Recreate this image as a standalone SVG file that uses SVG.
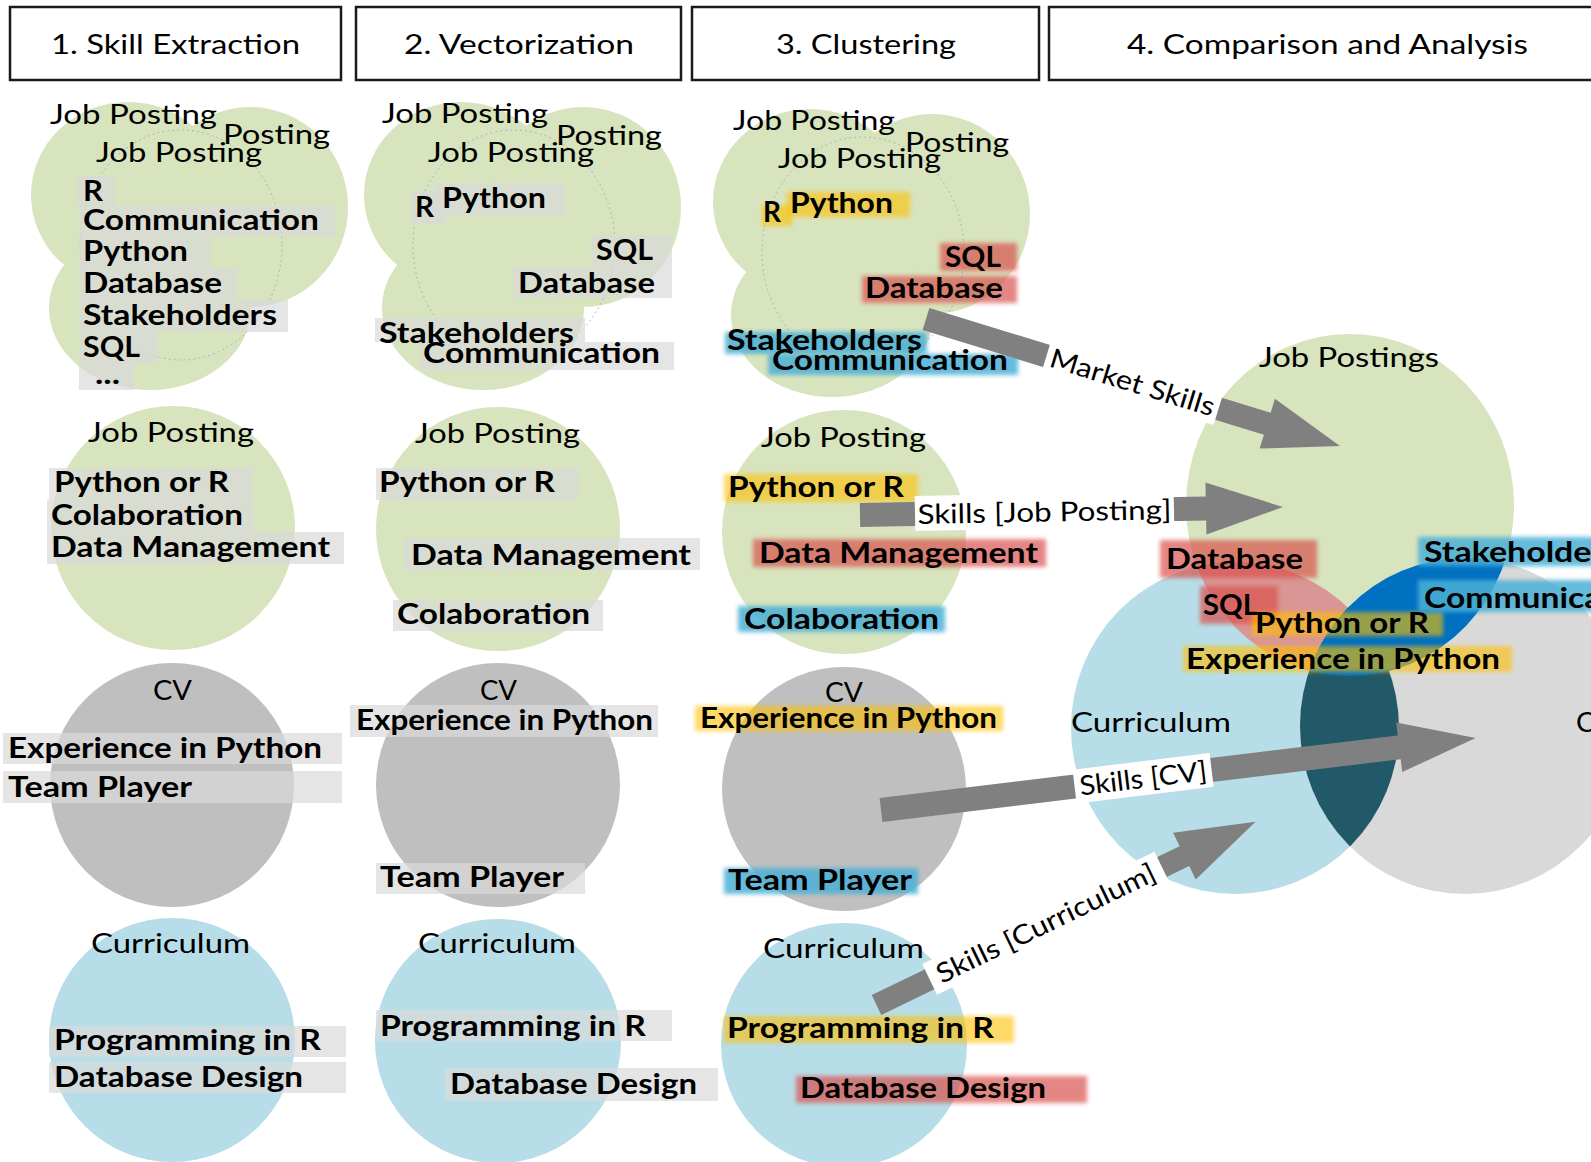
<svg xmlns="http://www.w3.org/2000/svg" width="1591" height="1162" viewBox="0 0 1591 1162">
<style>
.t{font-family:Lato,"Liberation Sans",sans-serif;font-size:27px;fill:#000}
.b{font-weight:700;font-size:28px}
.hdr{fill:#fff;stroke:#1a1a1a;stroke-width:2.5}
.jp{fill:#d7e4bd}
.cv{fill:#bfbfbf}
.cu{fill:#b7dde8}
.dot{fill:none;stroke:#a9b3c2;stroke-width:1;stroke-dasharray:2 3}
.gbox{fill:#dadada;opacity:.7}
.hy{fill:#ffc000;opacity:.6;filter:url(#soft)}
.hr{fill:#d9534f;opacity:.7;filter:url(#soft)}
.hb{fill:#4bb0d6;opacity:.85;filter:url(#soft)}
.arr{fill:#808080}
.lbl{fill:#fff}
</style>
<defs>
<filter id="soft" x="-10%" y="-40%" width="120%" height="180%"><feGaussianBlur stdDeviation="2"/></filter>
<clipPath id="clipJP"><ellipse cx="1350" cy="505" rx="164" ry="171"/></clipPath>
<clipPath id="clipCU"><ellipse cx="1235" cy="728" rx="164" ry="166"/></clipPath>
</defs>
<rect width="1591" height="1162" fill="#fff"/>

<g id="header-1"><rect class="hdr" x="10" y="7" width="331" height="73"/><text class="t" x="51" y="54" font-size="28" textLength="249" lengthAdjust="spacingAndGlyphs">1. Skill Extraction</text></g>
<g id="header-2"><rect class="hdr" x="356" y="7" width="325" height="73"/><text class="t" x="404" y="54" font-size="28" textLength="230" lengthAdjust="spacingAndGlyphs">2. Vectorization</text></g>
<g id="header-3"><rect class="hdr" x="692" y="7" width="347" height="73"/><text class="t" x="776" y="54" font-size="28" textLength="180" lengthAdjust="spacingAndGlyphs">3. Clustering</text></g>
<g id="header-4"><rect class="hdr" x="1049" y="7" width="600" height="73"/><text class="t" x="1127" y="54" font-size="28" textLength="401" lengthAdjust="spacingAndGlyphs">4. Comparison and Analysis</text></g>

<!-- Column 1 -->
<g id="c1-postings">
<ellipse class="jp" cx="128" cy="195" rx="97" ry="93"/>
<ellipse class="jp" cx="250" cy="207" rx="98" ry="100"/>
<ellipse class="jp" cx="150" cy="308" rx="101" ry="82"/>
<ellipse class="dot" cx="181" cy="245" rx="101" ry="115"/>
<text class="t" x="50" y="124" textLength="167" lengthAdjust="spacingAndGlyphs">Job Posting</text>
<text class="t" x="223" y="144" textLength="107" lengthAdjust="spacingAndGlyphs">Posting</text>
<text class="t" x="96" y="162" textLength="166" lengthAdjust="spacingAndGlyphs">Job Posting</text>
<rect class="gbox" x="78" y="176" width="37" height="30"/>
<rect class="gbox" x="79" y="206" width="256" height="31"/>
<rect class="gbox" x="79" y="237" width="131" height="31"/>
<rect class="gbox" x="79" y="268" width="158" height="32"/>
<rect class="gbox" x="79" y="300" width="209" height="32"/>
<rect class="gbox" x="79" y="332" width="79" height="31"/>
<rect class="gbox" x="79" y="363" width="55" height="27"/>
<text class="t b" x="83" y="201" textLength="20" lengthAdjust="spacingAndGlyphs">R</text>
<text class="t b" x="83" y="230" textLength="236" lengthAdjust="spacingAndGlyphs">Communication</text>
<text class="t b" x="83" y="261" textLength="105" lengthAdjust="spacingAndGlyphs">Python</text>
<text class="t b" x="83" y="293" textLength="139" lengthAdjust="spacingAndGlyphs">Database</text>
<text class="t b" x="83" y="325" textLength="194" lengthAdjust="spacingAndGlyphs">Stakeholders</text>
<text class="t b" x="83" y="357" textLength="57" lengthAdjust="spacingAndGlyphs">SQL</text>
<text class="t b" x="95" y="384" textLength="25" lengthAdjust="spacingAndGlyphs">...</text>
</g>
<g id="c1-posting">
<ellipse class="jp" cx="173" cy="528" rx="122" ry="122"/>
<text class="t" x="88" y="442" textLength="166" lengthAdjust="spacingAndGlyphs">Job Posting</text>
<rect class="gbox" x="49" y="468" width="203" height="32"/>
<rect class="gbox" x="47" y="500" width="207" height="32"/>
<rect class="gbox" x="47" y="532" width="297" height="32"/>
<text class="t b" x="54" y="492" textLength="175" lengthAdjust="spacingAndGlyphs">Python or R</text>
<text class="t b" x="51" y="525" textLength="192" lengthAdjust="spacingAndGlyphs">Colaboration</text>
<text class="t b" x="51" y="557" textLength="279" lengthAdjust="spacingAndGlyphs">Data Management</text>
</g>
<g id="c1-cv">
<ellipse class="cv" cx="172" cy="785" rx="122" ry="122"/>
<text class="t" x="153" y="700" textLength="39" lengthAdjust="spacingAndGlyphs">CV</text>
<rect class="gbox" x="3" y="733" width="339" height="31"/>
<rect class="gbox" x="3" y="771" width="339" height="32"/>
<text class="t b" x="8" y="758" textLength="314" lengthAdjust="spacingAndGlyphs">Experience in Python</text>
<text class="t b" x="8" y="797" textLength="184" lengthAdjust="spacingAndGlyphs">Team Player</text>
</g>
<g id="c1-curriculum">
<ellipse class="cu" cx="172" cy="1040" rx="123" ry="122"/>
<text class="t" x="91" y="953" textLength="159" lengthAdjust="spacingAndGlyphs">Curriculum</text>
<rect class="gbox" x="49" y="1026" width="297" height="31"/>
<rect class="gbox" x="49" y="1062" width="297" height="31"/>
<text class="t b" x="54" y="1050" textLength="267" lengthAdjust="spacingAndGlyphs">Programming in R</text>
<text class="t b" x="54" y="1087" textLength="249" lengthAdjust="spacingAndGlyphs">Database Design</text>
</g>

<!-- Column 2 -->
<g id="c2-postings">
<ellipse class="jp" cx="461" cy="195" rx="97" ry="93"/>
<ellipse class="jp" cx="583" cy="207" rx="98" ry="100"/>
<ellipse class="jp" cx="483" cy="308" rx="101" ry="82"/>
<ellipse class="dot" cx="514" cy="245" rx="101" ry="115"/>
<text class="t" x="382" y="123" textLength="166" lengthAdjust="spacingAndGlyphs">Job Posting</text>
<text class="t" x="556" y="145" textLength="106" lengthAdjust="spacingAndGlyphs">Posting</text>
<text class="t" x="428" y="162" textLength="166" lengthAdjust="spacingAndGlyphs">Job Posting</text>
<rect class="gbox" x="411" y="191" width="35" height="33"/>
<rect class="gbox" x="435" y="183" width="130" height="32"/>
<rect class="gbox" x="591" y="235" width="81" height="32"/>
<rect class="gbox" x="513" y="267" width="159" height="31"/>
<rect class="gbox" x="375" y="318" width="210" height="24"/>
<rect class="gbox" x="420" y="342" width="254" height="28"/>
<text class="t b" x="415" y="217" textLength="19" lengthAdjust="spacingAndGlyphs">R</text>
<text class="t b" x="442" y="208" textLength="104" lengthAdjust="spacingAndGlyphs">Python</text>
<text class="t b" x="596" y="260" textLength="57" lengthAdjust="spacingAndGlyphs">SQL</text>
<text class="t b" x="518" y="293" textLength="137" lengthAdjust="spacingAndGlyphs">Database</text>
<text class="t b" x="379" y="343" textLength="195" lengthAdjust="spacingAndGlyphs">Stakeholders</text>
<text class="t b" x="423" y="363" textLength="237" lengthAdjust="spacingAndGlyphs">Communication</text>
</g>
<g id="c2-posting">
<ellipse class="jp" cx="498" cy="529" rx="122" ry="122"/>
<text class="t" x="415" y="443" textLength="165" lengthAdjust="spacingAndGlyphs">Job Posting</text>
<rect class="gbox" x="376" y="468" width="202" height="32"/>
<rect class="gbox" x="404" y="538" width="296" height="32"/>
<rect class="gbox" x="393" y="600" width="210" height="31"/>
<text class="t b" x="379" y="492" textLength="176" lengthAdjust="spacingAndGlyphs">Python or R</text>
<text class="t b" x="411" y="565" textLength="280" lengthAdjust="spacingAndGlyphs">Data Management</text>
<text class="t b" x="397" y="624" textLength="193" lengthAdjust="spacingAndGlyphs">Colaboration</text>
</g>
<g id="c2-cv">
<ellipse class="cv" cx="498" cy="785" rx="122" ry="122"/>
<text class="t" x="480" y="700" textLength="37" lengthAdjust="spacingAndGlyphs">CV</text>
<rect class="gbox" x="350" y="705" width="308" height="32"/>
<rect class="gbox" x="376" y="863" width="209" height="31"/>
<text class="t b" x="356" y="730" textLength="297" lengthAdjust="spacingAndGlyphs">Experience in Python</text>
<text class="t b" x="380" y="887" textLength="184" lengthAdjust="spacingAndGlyphs">Team Player</text>
</g>
<g id="c2-curriculum">
<ellipse class="cu" cx="498" cy="1041" rx="123" ry="122"/>
<text class="t" x="418" y="953" textLength="158" lengthAdjust="spacingAndGlyphs">Curriculum</text>
<rect class="gbox" x="376" y="1010" width="296" height="31"/>
<rect class="gbox" x="445" y="1068" width="273" height="33"/>
<text class="t b" x="380" y="1036" textLength="266" lengthAdjust="spacingAndGlyphs">Programming in R</text>
<text class="t b" x="450" y="1094" textLength="247" lengthAdjust="spacingAndGlyphs">Database Design</text>
</g>

<!-- Column 3 -->
<g id="c3-postings">
<ellipse class="jp" cx="810" cy="202" rx="97" ry="93"/>
<ellipse class="jp" cx="932" cy="214" rx="98" ry="100"/>
<ellipse class="jp" cx="832" cy="315" rx="101" ry="82"/>
<ellipse class="dot" cx="863" cy="252" rx="101" ry="115"/>
<text class="t" x="733" y="130" textLength="162" lengthAdjust="spacingAndGlyphs">Job Posting</text>
<text class="t" x="905" y="152" textLength="104" lengthAdjust="spacingAndGlyphs">Posting</text>
<text class="t" x="778" y="168" textLength="163" lengthAdjust="spacingAndGlyphs">Job Posting</text>
<rect class="hy" x="762" y="205" width="30" height="21"/>
<rect class="hy" x="787" y="192" width="123" height="25"/>
<rect class="hr" x="940" y="243" width="77" height="28"/>
<rect class="hr" x="862" y="276" width="155" height="27"/>
<rect class="hb" x="725" y="332" width="202" height="22"/>
<rect class="hb" x="768" y="354" width="250" height="21"/>
<text class="t b" x="763" y="222" textLength="18" lengthAdjust="spacingAndGlyphs">R</text>
<text class="t b" x="790" y="213" textLength="103" lengthAdjust="spacingAndGlyphs">Python</text>
<text class="t b" x="945" y="267" textLength="56" lengthAdjust="spacingAndGlyphs">SQL</text>
<text class="t b" x="865" y="298" textLength="138" lengthAdjust="spacingAndGlyphs">Database</text>
<text class="t b" x="727" y="350" textLength="195" lengthAdjust="spacingAndGlyphs">Stakeholders</text>
<text class="t b" x="772" y="370" textLength="236" lengthAdjust="spacingAndGlyphs">Communication</text>
</g>
<g id="c3-posting">
<ellipse class="jp" cx="844" cy="532" rx="122" ry="122"/>
<text class="t" x="761" y="447" textLength="165" lengthAdjust="spacingAndGlyphs">Job Posting</text>
<rect class="hy" x="724" y="474" width="194" height="28"/>
<rect class="hr" x="753" y="539" width="293" height="28"/>
<rect class="hb" x="738" y="606" width="207" height="26"/>
<text class="t b" x="728" y="497" textLength="176" lengthAdjust="spacingAndGlyphs">Python or R</text>
<text class="t b" x="759" y="563" textLength="279" lengthAdjust="spacingAndGlyphs">Data Management</text>
<text class="t b" x="744" y="629" textLength="195" lengthAdjust="spacingAndGlyphs">Colaboration</text>
</g>
<g id="c3-cv">
<ellipse class="cv" cx="844" cy="789" rx="122" ry="122"/>
<text class="t" x="825" y="702" textLength="38" lengthAdjust="spacingAndGlyphs">CV</text>
<rect class="hy" x="695" y="706" width="308" height="25"/>
<rect class="hb" x="724" y="868" width="194" height="26"/>
<text class="t b" x="700" y="728" textLength="297" lengthAdjust="spacingAndGlyphs">Experience in Python</text>
<text class="t b" x="728" y="890" textLength="184" lengthAdjust="spacingAndGlyphs">Team Player</text>
</g>
<g id="c3-curriculum">
<ellipse class="cu" cx="844" cy="1045" rx="123" ry="122"/>
<text class="t" x="763" y="958" textLength="161" lengthAdjust="spacingAndGlyphs">Curriculum</text>
<rect class="hy" x="724" y="1016" width="290" height="27"/>
<rect class="hr" x="796" y="1076" width="291" height="27"/>
<text class="t b" x="727" y="1038" textLength="267" lengthAdjust="spacingAndGlyphs">Programming in R</text>
<text class="t b" x="800" y="1098" textLength="246" lengthAdjust="spacingAndGlyphs">Database Design</text>
</g>

<!-- Venn -->
<g id="venn-job-postings"><ellipse class="jp" cx="1350" cy="505" rx="164" ry="171"/></g>
<g id="venn-curriculum"><ellipse class="cu" cx="1235" cy="728" rx="164" ry="166"/></g>
<g id="venn-cv"><ellipse fill="#d9d9d9" cx="1465" cy="726" rx="165" ry="168"/></g>
<g id="venn-overlaps">
<ellipse fill="#d99694" cx="1235" cy="728" rx="164" ry="166" clip-path="url(#clipJP)"/>
<ellipse fill="#215968" cx="1465" cy="726" rx="165" ry="168" clip-path="url(#clipCU)"/>
<ellipse fill="#0070c0" cx="1465" cy="726" rx="165" ry="168" clip-path="url(#clipJP)"/>
</g>
<g id="venn-labels">
<text class="t" x="1259" y="367" textLength="180" lengthAdjust="spacingAndGlyphs">Job Postings</text>
<text class="t" x="1071" y="732" textLength="160" lengthAdjust="spacingAndGlyphs">Curriculum</text>
<text class="t" x="1576" y="732" textLength="38" lengthAdjust="spacingAndGlyphs">CV</text>
<rect class="hr" x="1160" y="540" width="157" height="38"/>
<rect class="hr" x="1200" y="586" width="78" height="38"/>
<rect class="hy" x="1252" y="612" width="191" height="24"/>
<rect class="hy" x="1183" y="646" width="329" height="26"/>
<rect class="hb" x="1418" y="537" width="200" height="29"/>
<rect class="hb" x="1418" y="580" width="200" height="32"/>
<text class="t b" x="1166" y="569" textLength="137" lengthAdjust="spacingAndGlyphs">Database</text>
<text class="t b" x="1203" y="615" textLength="55" lengthAdjust="spacingAndGlyphs">SQL</text>
<text class="t b" x="1255" y="633" textLength="174" lengthAdjust="spacingAndGlyphs">Python or R</text>
<text class="t b" x="1186" y="669" textLength="314" lengthAdjust="spacingAndGlyphs">Experience in Python</text>
<text class="t b" x="1424" y="562" textLength="195" lengthAdjust="spacingAndGlyphs">Stakeholders</text>
<text class="t b" x="1424" y="608" textLength="237" lengthAdjust="spacingAndGlyphs">Communication</text>
</g>

<!-- Connectors -->
<g id="connectors">
<g id="arrow-market-skills" transform="translate(926 319) rotate(17.05)">
<polygon class="arr" points="0,-11.5 357,-11.5 357,-26 433,0 357,26 357,11.5 0,11.5"/>
<rect class="lbl" x="126" y="-17" width="180" height="34"/>
<text class="t" x="216" y="9.5" text-anchor="middle" textLength="171" lengthAdjust="spacingAndGlyphs">Market Skills</text>
</g>
<g id="arrow-skills-job" transform="translate(860 515) rotate(-1.08)">
<polygon class="arr" points="0,-12 346,-12 346,-26 423,0 346,26 346,12 0,12"/>
<rect class="lbl" x="55" y="-18" width="259" height="35"/>
<text class="t" x="184.5" y="10" text-anchor="middle" textLength="254" lengthAdjust="spacingAndGlyphs">Skills [Job Posting]</text>
</g>
<g id="arrow-skills-cv" transform="translate(881 810) rotate(-6.9)">
<polygon class="arr" points="0,-12 522,-12 522,-25 599,0 522,25 522,12 0,12"/>
<rect class="lbl" x="195" y="-17" width="138" height="34"/>
<text class="t" x="264" y="9.5" text-anchor="middle" textLength="128" lengthAdjust="spacingAndGlyphs">Skills [CV]</text>
</g>
<g id="arrow-skills-curriculum" transform="translate(876.5 1005) rotate(-25.8)">
<polygon class="arr" points="0,-11 342,-11 342,-26 421,0 342,26 342,11 0,11"/>
<rect class="lbl" x="59" y="-17" width="258" height="34"/>
<text class="t" x="188" y="9.5" text-anchor="middle" textLength="240" lengthAdjust="spacingAndGlyphs">Skills [Curriculum]</text>
</g>
</g>
</svg>
